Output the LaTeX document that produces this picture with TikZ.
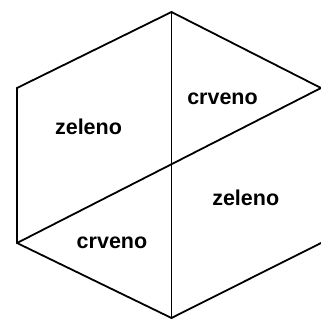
\documentclass[tikz,border=0pt]{standalone}
\usepackage{fontspec}
\setmainfont{Liberation Sans}
\usetikzlibrary{positioning}

\tikzset{
  edge/.style={draw=black, line width=1.8pt, line join=miter},
  colorlabel/.style={font=\fontsize{21.5}{24}\selectfont\bfseries, anchor=base, inner sep=0pt}
}

\begin{document}
\begin{tikzpicture}[x=1pt, y=-1pt]
  \useasboundingbox (0,0) rectangle (321,320);

  % corners of the hexagon
  \coordinate (top) at (171.5,12);
  \coordinate (ul) at (17,88);
  \coordinate (ll) at (17,243);
  \coordinate (bot) at (171.5,318);
  \coordinate (ur) at (321,88);
  \coordinate (lr) at (321,243);

  \draw[edge] (ur) -- (top) -- (ul) -- (ll) -- (bot) -- (lr);
  \draw[edge] (top) -- (bot);
  \draw[edge] (ll) -- (ur);

  \node[colorlabel] (z1) at (88.5,135) {zeleno};
  \node[colorlabel] (c1) at (222.5,105) {crveno};
  \node[colorlabel] (z2) at (245.7,206) {zeleno};
  \node[colorlabel] (c2) at (112,249) {crveno};
\end{tikzpicture}
\end{document}
